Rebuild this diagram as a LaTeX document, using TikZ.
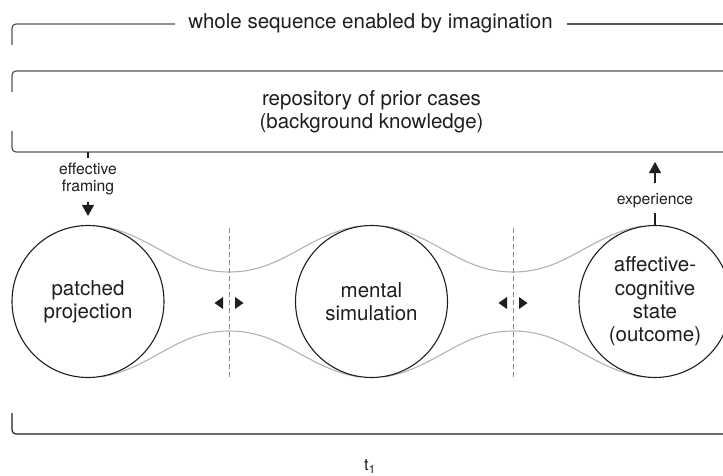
\documentclass[tikz,border=0pt]{standalone}
\usepackage{fontspec}
\setmainfont{TeX Gyre Heros}
\usetikzlibrary{arrows.meta,backgrounds}
\definecolor{ink}{HTML}{1E1E1E}
\definecolor{boxline}{HTML}{555555}
\definecolor{flow}{HTML}{B2B2B2}
\definecolor{dashc}{HTML}{8C8C8C}
\begin{document}
\begin{tikzpicture}[x=1pt,y=1pt,
  bigtext/.style={font=\fontsize{20.5}{23.4}\selectfont, text=ink, align=center},
  smalltext/.style={font=\fontsize{15.7}{17.6}\selectfont, text=ink, align=center, inner sep=0pt},
  stage/.style={circle, draw=ink, line width=1.1pt, fill=white, minimum size=152pt, inner sep=0pt, bigtext},
  frame/.style={draw=boxline, line width=1.2pt, rounded corners=4pt},
  baseframe/.style={draw=ink, line width=1.2pt, rounded corners=4pt},
  flowline/.style={draw=flow, line width=1.1pt},
  divider/.style={draw=dashc, line width=1pt, dash pattern=on 5pt off 3pt},
  tri/.style={fill=ink, draw=none},
  arr/.style={draw=ink, line width=1.1pt, -{Triangle[length=11pt,width=12pt]}},
  link/.style={draw=ink, line width=1.1pt},
]
\useasboundingbox (0,0) rectangle (723,475);
\clip (0,0) rectangle (723,475);

% whole-sequence bracket
\node[bigtext, anchor=base, inner sep=0pt] (whole) at (370.5,446) {whole sequence enabled by imagination};
\coordinate (wl) at (175,451);
\coordinate (wr) at (567,451);
\draw[frame] (wl) -- (12,451) -- (12,430);
\draw[frame] (wr) -- (740,451);
\draw[baseframe] (12,62) -- (12,41) -- (740,41);

% repository box
\node[bigtext] (repo) at (371.5,363.5) {repository of prior cases\\(background knowledge)};
\draw[frame] (12,383) -- (12,404) -- (740,404);
\draw[frame] (12,344) -- (12,323) -- (740,323);

% stages
\node[stage] (pp) at (88,173.5) {patched\\projection};
\node[stage] (ms) at (371.5,173.5) {mental\\simulation};
\node[stage] (ac) at (655,173.5) {affective-\\cognitive\\state\\(outcome)};

\coordinate (u1) at (229,203);
\coordinate (l1) at (229,144);
\coordinate (u2) at (513,203);
\coordinate (l2) at (513,144);

\begin{scope}[on background layer]
  \path[flowline] (pp.80) to[out=-10,in=180] (u1) to[out=0,in=190] (ms.100);
  \path[flowline] (ms.80) to[out=-10,in=180] (u2) to[out=0,in=190] (ac.100);
  \path[flowline] (pp.-80) to[out=10,in=180] (l1) to[out=0,in=170] (ms.-100);
  \path[flowline] (ms.-80) to[out=10,in=180] (l2) to[out=0,in=170] (ac.-100);
  \path[divider] (229,247) -- (229,98);
  \path[divider] (513,247) -- (513,98);
\end{scope}

% transition markers
\foreach \x in {229,513} {
  \fill[tri] (\x-14.5,172) -- (\x-6,178) -- (\x-6,166) -- cycle;
  \fill[tri] (\x+14.5,172) -- (\x+6,178) -- (\x+6,166) -- cycle;
}

% effective framing
\node[smalltext] (ef) at (88,296) {effective\\framing};
\coordinate (efa) at (88,323);
\draw[link] (efa) -- ++(0,-6);
\draw[arr] ([yshift=-6.5pt]ef.south) -- ([yshift=9pt]pp.north);

% experience
\node[smalltext, anchor=base] (ex) at (655,271) {experience};
\draw[link] (ac.north) -- ++(0,12);
\coordinate (exa) at (655,313);
\draw[arr] (655,292) -- (exa);

% time label
\node[font=\fontsize{16.5}{18}\selectfont, text=ink, anchor=base, inner sep=0pt] (t1) at (370,4.5) {t\textsubscript{1}};
\end{tikzpicture}
\end{document}
